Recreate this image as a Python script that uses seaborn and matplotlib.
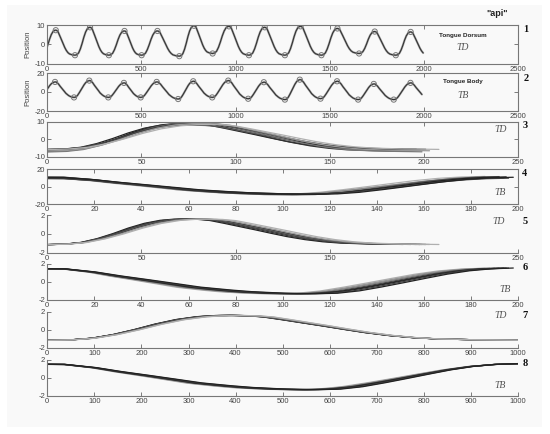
import numpy as np
import pandas as pd
import seaborn as sns
import matplotlib.pyplot as plt
from matplotlib.patches import Rectangle

sns.set_style("ticks")
plt.rcParams['font.family'] = ['Liberation Sans', 'DejaVu Sans']
plt.rcParams['axes.unicode_minus'] = False

# Panel 1 - Tongue Dorsum position: extrema
# (first and last trough sit just outside 0..2000 so the ends are drawn)
td_peak_t = [45, 227, 410, 585, 779, 965, 1155, 1345, 1541, 1739, 1930]
td_peak_y = [7.3, 8.8, 6.9, 6.9, 9.6, 9.3, 8.8, 9.3, 8.2, 6.6, 6.4]
td_trough_t = [-35, 147, 327, 501, 701, 878, 1071, 1262, 1456, 1656, 1851, 2035]
td_trough_y = [-5.8, -5.7, -5.7, -5.7, -6.2, -4.8, -5.7, -5.7, -5.7, -4.8, -5.7, -5.8]

# Panel 2 - Tongue Body position
tb_peak_t = [41, 223, 407, 581, 775, 961, 1150, 1341, 1539, 1734, 1929]
tb_peak_y = [10.6, 12.0, 9.6, 10.6, 11.3, 12.0, 10.3, 13.0, 11.3, 8.5, 9.6]
tb_trough_t = [-45, 142, 324, 496, 695, 876, 1067, 1262, 1451, 1651, 1840, 2035]
tb_trough_y = [-6.0, -5.7, -5.7, -5.7, -7.4, -5.7, -7.1, -8.0, -7.0, -8.0, -8.0, -7.0]

# one TD cycle (trough -> peak -> trough), reference trial: peak at 78, length 200
td_t = [0, 10, 19, 28, 37, 46, 55, 64, 72, 78, 85, 92, 100, 108, 117, 126, 135, 145, 155, 165, 180, 200]
td_y = [-6.5, -6.2, -5.2, -3.0, 0.0, 3.4, 6.2, 8.0, 8.7, 8.8, 8.6, 7.9, 6.2, 4.4, 2.4, 0.3, -1.7, -3.5, -4.8, -5.6, -6.1, -6.4]
td_mid_ref, td_len_ref = 78, 200

# one TB cycle (peak -> trough -> peak), reference trial: trough at 105, length 195
tb_t = [0, 7, 19, 29, 40, 51, 60, 72, 80, 93, 105, 115, 125, 135, 145, 155, 165, 175, 185, 195]
tb_y = [10.3, 10.2, 7.8, 4.8, 1.9, -1.1, -3.6, -5.8, -7.0, -8.2, -8.6, -8.2, -6.4, -3.5, -0.3, 3.0, 6.2, 8.7, 10.2, 10.8]
tb_mid_ref, tb_len_ref = 105, 195

# individual repetitions (time of peak / trough, length, amplitude)
td_trial_mid = [73, 75, 77, 78, 79, 80, 83, 86]
td_trial_len = [189, 193, 196, 198, 199, 201, 203, 208]
td_trial_gain = [0.95, 1.05, 0.90, 1.00, 1.08, 0.97, 1.02, 0.93]
td_trial_shift = [0.3, -0.2, 0.0, 0.2, -0.3, 0.4, -0.1, 0.1]
td_trial_col = ['#222222', '#333333', '#555555', '#222222', '#777777', '#444444', '#999999', '#b0b0b0']

tb_trial_mid = [96, 99, 101, 104, 106, 108, 111, 114]
tb_trial_len = [186, 188, 190, 192, 194, 195, 196, 198]
tb_trial_gain = [1.05, 0.95, 1.00, 1.08, 0.97, 1.02, 0.93, 1.00]
tb_trial_shift = [0.5, -0.3, 0.2, 0.0, -0.4, 0.3, -0.2, 0.1]
tb_trial_col = ['#b0b0b0', '#999999', '#888888', '#555555', '#333333', '#222222', '#444444', '#222222']

W, H = 550, 434
fig = plt.figure(figsize=(5.5, 4.34), dpi=100)
fig.patches.append(Rectangle((7 / W, 1 - 427 / H), 535 / W, 422 / H, transform=fig.transFigure,
                             facecolor='#f9f9f9', edgecolor='none', zorder=-10))

LEFT, RIGHT = 47.3, 518
panels_px = [(25, 63.5), (73, 111), (121.5, 156.7), (169.3, 204.3),
             (215, 252.5), (264, 300), (311.5, 348), (359.5, 396)]


def make_ax(top, bot):
    return fig.add_axes([LEFT / W, 1 - bot / H, (RIGHT - LEFT) / W, (bot - top) / H], facecolor='none')


def halves(t, y, mid):
    t = np.asarray(t, float)
    y = np.asarray(y, float)
    a, b = t <= mid, t >= mid
    first = (t[a] / mid, (y[a] - y[a][0]) / (y[a][-1] - y[a][0]))
    second = ((t[b] - mid) / (t[b][-1] - mid), (y[b] - y[b][0]) / (y[b][-1] - y[b][0]))
    return first, second


def chain(ext_t, ext_y, up, down):
    ts, ys = [], []
    for i in range(len(ext_t) - 1):
        f, p = up if ext_y[i + 1] > ext_y[i] else down
        st = ext_t[i] + f * (ext_t[i + 1] - ext_t[i])
        sy = ext_y[i] + p * (ext_y[i + 1] - ext_y[i])
        if i > 0:
            st, sy = st[1:], sy[1:]
        ts.append(st)
        ys.append(sy)
    t = np.concatenate(ts)
    y = np.concatenate(ys)
    keep = t <= 2000
    return t[keep], y[keep]


def extrema(peak_t, peak_y, trough_t, trough_y):
    pts = sorted(list(zip(peak_t, peak_y)) + list(zip(trough_t, trough_y)))
    return [p[0] for p in pts], [p[1] for p in pts]


def trials(t, y, mid_ref, len_ref, mids, lens, gains, shifts):
    t = np.asarray(t, float)
    y = np.asarray(y, float)
    rows = []
    for k in range(len(mids)):
        tk = np.where(t <= mid_ref, t * mids[k] / mid_ref,
                      mids[k] + (t - mid_ref) * (lens[k] - mids[k]) / (len_ref - mid_ref))
        yk = y * gains[k] + shifts[k]
        m = np.trapezoid(yk, tk) / tk[-1]
        s = np.sqrt(np.trapezoid((yk - m) ** 2, tk) / tk[-1])
        rows.append(pd.DataFrame({'trial': k, 't': tk, 'y': yk, 'z': (yk - m) / s,
                                  'tn': tk * 1000 / lens[k]}))
    return pd.concat(rows, ignore_index=True)


def style(ax, xmax, xstep, ylim, box=True):
    ax.set_xlim(0, xmax)
    ax.set_ylim(-ylim, ylim)
    ax.set_xticks(np.arange(0, xmax + 1, xstep))
    ax.set_yticks([-ylim, 0, ylim])
    ax.tick_params(direction='in', length=3, width=0.6, labelsize=5.5, labelcolor='#444444',
                   color='#666666', pad=1.5, top=box, right=box)
    for sp in ax.spines.values():
        sp.set_color('#777777')
        sp.set_linewidth(0.8)
    if not box:
        ax.spines['top'].set_visible(False)
        ax.spines['right'].set_visible(False)
    ax.set_xlabel('')
    ax.set_ylabel('')


td_up, td_down = halves(td_t, td_y, td_mid_ref)
tb_down, tb_up = halves(tb_t, tb_y, tb_mid_ref)

axes = [make_ax(*p) for p in panels_px]

# panels 1, 2: position over the whole recording
for ax, (pt, py, tt, ty), up, down, lim in [
        (axes[0], (td_peak_t, td_peak_y, td_trough_t, td_trough_y), td_up, td_down, 10),
        (axes[1], (tb_peak_t, tb_peak_y, tb_trough_t, tb_trough_y), tb_up, tb_down, 20)]:
    et, ey = extrema(pt, py, tt, ty)
    t, y = chain(et, ey, up, down)
    sns.lineplot(x=t, y=y, ax=ax, color='#aaaaaa', lw=1.6, sort=False, estimator=None)
    sns.lineplot(x=t, y=y, ax=ax, color='#333333', lw=0.8, sort=False, estimator=None)
    mk = pd.DataFrame({'t': pt + tt[1:-1], 'y': py + ty[1:-1]})
    sns.scatterplot(data=mk, x='t', y='y', ax=ax, marker='o', s=14, facecolor='none',
                    edgecolor='#777777', linewidth=0.7, zorder=3)
    style(ax, 2500, 500, lim)
    ax.set_ylabel('Position', fontsize=5.5, color='#444444')
    ax.yaxis.set_label_coords(-0.034, 0.5)

td_df = trials(td_t, td_y, td_mid_ref, td_len_ref, td_trial_mid, td_trial_len, td_trial_gain, td_trial_shift)
tb_df = trials(tb_t, tb_y, tb_mid_ref, tb_len_ref, tb_trial_mid, tb_trial_len, tb_trial_gain, tb_trial_shift)

specs = [
    (axes[2], td_df, 't', 'y', td_trial_col, 250, 50, 10, True),
    (axes[3], tb_df, 't', 'y', tb_trial_col, 200, 20, 20, True),
    (axes[4], td_df, 't', 'z', td_trial_col, 250, 50, 2, False),
    (axes[5], tb_df, 't', 'z', tb_trial_col, 200, 20, 2, False),
    (axes[6], td_df, 'tn', 'z', td_trial_col, 1000, 100, 2, False),
    (axes[7], tb_df, 'tn', 'z', tb_trial_col, 1000, 100, 2, False),
]
for ax, df, xc, yc, cols, xmax, xstep, lim, box in specs:
    sns.lineplot(data=df, x=xc, y=yc, hue='trial', palette=cols, ax=ax, lw=0.9,
                 sort=False, estimator=None, legend=False)
    style(ax, xmax, xstep, lim, box)


# labels
def ftext(x, y, s, **kw):
    fig.text(x / W, 1 - y / H, s, ha='center', va='center', **kw)


ftext(497, 14, '"api"', fontsize=6.5, fontweight='bold', color='#222222')
ftext(463, 35, 'Tongue Dorsum', fontsize=4.5, fontweight='bold', color='#222222')
ftext(463, 81, 'Tongue Body', fontsize=4.5, fontweight='bold', color='#222222')
serif_it = dict(family=['Liberation Serif', 'DejaVu Serif'], style='italic', color='#555555', fontsize=7)
for x, y, s in [(463, 48, 'TD'), (463, 95, 'TB'), (501, 130, 'TD'), (500, 192, 'TB'),
                (499, 222, 'TD'), (505, 290, 'TB'), (501, 316, 'TD'), (500, 385, 'TB')]:
    ftext(x, y, s, **serif_it)
for (x, y), s in zip([(526, 29), (526, 79), (525, 125), (525, 173), (525, 222), (525, 267), (525, 315), (525, 363)],
                     '12345678'):
    ftext(x, y, s, family=['Liberation Serif', 'DejaVu Serif'], fontweight='bold', fontsize=7.5, color='#111111')

fig.savefig('out.png', dpi=100)
